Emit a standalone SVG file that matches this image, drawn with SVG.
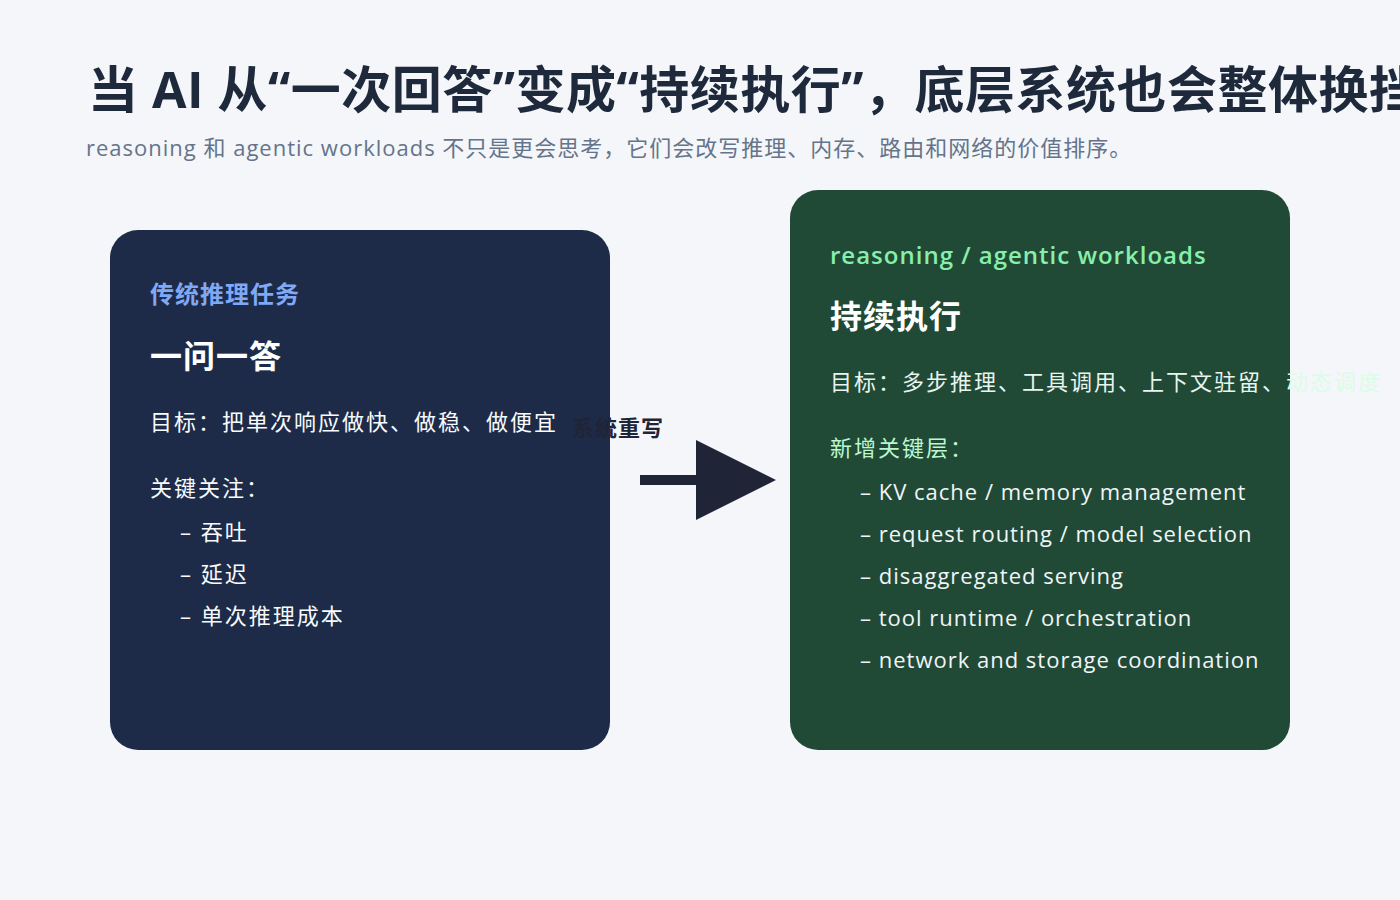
<svg xmlns="http://www.w3.org/2000/svg" width="1400" height="900" viewBox="0 0 1400 900">
<style>
text{font-family:"Open Sans","Noto Sans CJK SC",sans-serif;letter-spacing:1px}
.w{fill:#f1f5f9;font-size:22px}
.b{fill:#f8fafc;font-size:22px}
</style>
<rect width="1400" height="900" fill="#f4f6f9"/>
<text x="88" y="108" font-size="50" font-weight="700" fill="#1e293b" style="letter-spacing:0.5px">当 AI 从“一次回答”变成“持续执行”，底层系统也会整体换挡</text>
<text x="86" y="156" font-size="22" fill="#64748b">reasoning 和 agentic workloads 不只是更会思考，它们会改写推理、内存、路由和网络的价值排序。</text>
<g id="left">
<rect x="110" y="230" width="500" height="520" rx="28" fill="#1d2b49"/>
<text x="150" y="303" font-size="24" font-weight="700" fill="#7fa8f5">传统推理任务</text>
<text x="150" y="368" font-size="32" font-weight="700" fill="#ffffff">一问一答</text>
<text x="150" y="430" class="b" style="letter-spacing:2px">目标：把单次响应做快、做稳、做便宜</text>
<text x="150" y="496" class="b" fill="#dbe4f3" style="letter-spacing:2px">关键关注：</text>
<text x="180" y="540" class="b" style="letter-spacing:2px">– 吞吐</text>
<text x="180" y="582" class="b" style="letter-spacing:2px">– 延迟</text>
<text x="180" y="624" class="b" style="letter-spacing:2px">– 单次推理成本</text>
</g>
<g id="right">
<rect x="790" y="190" width="500" height="560" rx="28" fill="#214a36"/>
<text x="830" y="264" font-size="24" font-weight="600" fill="#86efac">reasoning / agentic workloads</text>
<text x="830" y="328" font-size="32" font-weight="700" fill="#ffffff">持续执行</text>
<text x="830" y="390" font-size="22" fill="#e9f5ee" style="letter-spacing:2px">目标：多步推理、工具调用、上下文驻留、<tspan fill="#dcfce7">动态调度</tspan></text>
<text x="830" y="456" font-size="22" fill="#bbf7d0" style="letter-spacing:2px">新增关键层：</text>
<text x="860" y="500" class="w">– KV cache / memory management</text>
<text x="860" y="542" class="w">– request routing / model selection</text>
<text x="860" y="584" class="w">– disaggregated serving</text>
<text x="860" y="626" class="w">– tool runtime / orchestration</text>
<text x="860" y="668" class="w">– network and storage coordination</text>
</g>
<g id="connectors">
<line x1="640" y1="480" x2="700" y2="480" stroke="#1f2436" stroke-width="10"/>
<polygon points="696,440 776,480 696,520" fill="#1f2436"/>
<text x="572" y="436" font-size="22" font-weight="700" fill="#1f2436">系统重写</text>
</g>
</svg>
